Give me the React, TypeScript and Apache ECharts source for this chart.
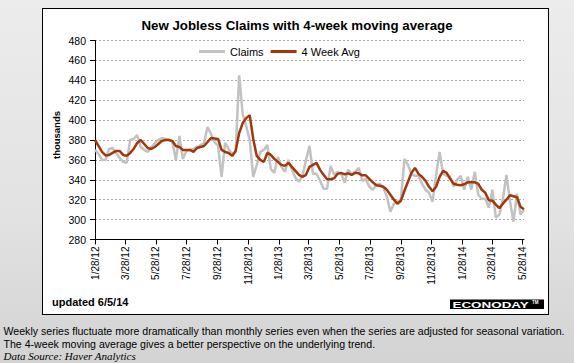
import React, { useEffect, useRef } from "react";
import * as echarts from "echarts";

// Weekly data, week ending Saturday, starting 1/28/12
const startDate = Date.UTC(2012, 0, 28);
const dayCount = 855; // 1/28/12 .. 5/31/14

const claims = [
  370, 366, 360, 360, 371, 372, 367, 362, 358, 357,
  380, 381, 385, 373, 370, 368, 373, 377, 380, 382,
  381, 380, 378, 360, 384, 361, 369, 370, 371, 373,
  375, 377, 393, 386, 378, 374, 343, 377, 371, 366,
  368, 445, 406, 394, 380, 343, 355, 368, 370, 375,
  351, 347, 363, 353, 348, 360, 350, 342, 338, 344,
  360, 374, 346, 346, 339, 331, 331, 354, 345, 348,
  346, 337, 350, 346, 348, 352, 339, 341, 333, 330,
  335, 336, 332, 323, 308, 316, 318, 320, 361, 355,
  346, 344, 344, 336, 330, 327, 318, 345, 368, 346,
  344, 343, 333, 340, 344, 330, 343, 330, 348, 325,
  321, 321, 312, 330, 302, 305, 321, 345, 319, 298,
  326, 305, 310,
];

const avg4 = [
  380, 374, 368, 364.5, 365, 367, 369, 369, 365, 364,
  367, 371, 377, 380, 376, 372, 371, 373, 376, 379,
  380, 380, 379, 374, 373, 370, 370, 370, 368, 372,
  373, 374, 378, 382, 381.5, 381, 370, 368, 367, 364,
  369, 387, 397, 402, 405, 381, 364, 360, 358, 367,
  365, 361, 358, 355, 354, 357, 353, 349, 345, 343,
  345, 353, 355, 357, 350, 345, 340.5, 340.5, 341.5, 346,
  347, 345.5, 346.5, 345, 347, 346.5, 344.5, 344.5, 341, 337.5,
  334.5, 334, 333, 330, 325, 320, 316, 319, 329, 338,
  347, 352, 346, 343, 339, 333, 328.5, 333, 343, 349,
  347, 341, 336, 335, 334.5, 335.5, 337.5, 337.5, 337.5, 336,
  330, 327, 319.5, 319, 315, 311.5, 316, 320, 324.5, 323.5,
  322.5, 313, 310.5,
];

const yMin = 280;
const yMax = 480;
const yStep = 20;

const titleText = "New Jobless Claims with 4-week moving average";
const yName = "thousands";
const updatedText = "updated 6/5/14";
const noteLines = [
  "Weekly series fluctuate more dramatically than monthly series even when the series are adjusted for seasonal variation.",
  "The 4-week moving average gives a better perspective on the underlying trend.",
];
const sourceText = "Data Source: Haver Analytics";

const FONT = "'Liberation Sans', Arial, sans-serif";

function dayDate(i: number) {
  return new Date(startDate + i * 86400000);
}
const dayLabels = Array.from({ length: dayCount }, (_, i) => {
  const d = dayDate(i);
  return `${d.getUTCMonth() + 1}/${d.getUTCDate()}/${String(d.getUTCFullYear()).slice(2)}`;
});
const isTickDay = (index: number) => {
  const d = dayDate(index);
  return d.getUTCDate() === 28 && d.getUTCMonth() % 2 === 0;
};

export default function App() {
  const ref = useRef<HTMLDivElement>(null);
  useEffect(() => {
    if (!ref.current) return;
    const chart = echarts.init(ref.current, null, { renderer: "svg" });
    chart.setOption({
      animation: false,
      backgroundColor: "transparent",
      textStyle: { fontFamily: FONT },
      grid: { left: 95, top: 40.5, width: 429, height: 199, containLabel: false },
      legend: {
        left: 194,
        top: 41,
        itemGap: 7,
        itemWidth: 26,
        itemHeight: 3,
        icon: "rect",
        textStyle: { fontSize: 11, color: "#000", fontFamily: FONT },
        data: ["Claims", "4 Week Avg"],
      },
      xAxis: {
        type: "category",
        data: dayLabels,
        boundaryGap: false,
        axisLine: { show: true, lineStyle: { color: "#000", width: 1 } },
        axisTick: { show: true, interval: (i: number) => isTickDay(i), length: 5, lineStyle: { color: "#000" } },
        axisLabel: {
          interval: (i: number) => isTickDay(i),
          rotate: 90,
          fontSize: 10,
          color: "#000",
          margin: 7,
          fontFamily: FONT,
        },
        splitLine: { show: false },
      },
      yAxis: {
        type: "value",
        min: yMin,
        max: yMax,
        interval: yStep,
        axisLine: { show: true, lineStyle: { color: "#000", width: 1 } },
        axisTick: { show: true, length: 5, lineStyle: { color: "#000" } },
        axisLabel: { fontSize: 10.5, color: "#000", margin: 9, fontFamily: FONT },
        splitLine: { show: true, lineStyle: { color: "#a8a8a8", type: [2, 2], width: 1 } },
      },
      series: [
        {
          name: "Claims",
          type: "line",
          data: claims.map((v, i) => [i * 7, v]),
          showSymbol: false,
          symbol: "none",
          lineStyle: { color: "#c2c2c2", width: 2.5 },
          itemStyle: { color: "#c2c2c2" },
          z: 2,
        },
        {
          name: "4 Week Avg",
          type: "line",
          data: avg4.map((v, i) => [i * 7, v]),
          showSymbol: false,
          symbol: "none",
          lineStyle: { color: "#a0380c", width: 2.5 },
          itemStyle: { color: "#a0380c" },
          z: 3,
        },
      ],
      graphic: [
        {
          type: "text",
          x: 297,
          y: 25,
          style: { text: titleText, font: `bold 13.3px ${FONT}`, fill: "#000", align: "center", verticalAlign: "middle" },
        },
        {
          type: "text",
          x: 56,
          y: 135,
          rotation: Math.PI / 2,
          style: { text: yName, font: `bold 9.5px ${FONT}`, fill: "#000", align: "center", verticalAlign: "middle" },
        },
        {
          type: "text",
          x: 52,
          y: 301.5,
          style: { text: updatedText, font: `bold 11px ${FONT}`, fill: "#000", align: "left", verticalAlign: "middle" },
        },
        { type: "rect", shape: { x: 450, y: 299.5, width: 94, height: 9.5 }, style: { fill: "#000" } },
        {
          type: "text",
          x: 452.5,
          y: 304.5,
          scaleX: 1.58,
          style: { text: "ECONODAY", font: `bold 8.5px ${FONT}`, fill: "#fff", align: "left", verticalAlign: "middle" },
        },
        {
          type: "text",
          x: 532,
          y: 302.5,
          style: { text: "TM", font: `bold 4.5px ${FONT}`, fill: "#fff", align: "left", verticalAlign: "middle" },
        },
        {
          type: "text",
          x: 3.5,
          y: 330.5,
          style: { text: noteLines[0], font: `10.6px ${FONT}`, fill: "#000", align: "left", verticalAlign: "middle" },
        },
        {
          type: "text",
          x: 3.5,
          y: 343.5,
          style: { text: noteLines[1], font: `10.6px ${FONT}`, fill: "#000", align: "left", verticalAlign: "middle" },
        },
        {
          type: "text",
          x: 3.5,
          y: 355.5,
          style: { text: sourceText, font: `italic 11px 'Liberation Serif', 'Times New Roman', serif`, fill: "#000", align: "left", verticalAlign: "middle" },
        },
      ],
    });
    return () => chart.dispose();
  }, []);

  return (
    <div
      style={{
        position: "fixed",
        left: 0,
        top: 0,
        width: 574,
        height: 363,
        background: "linear-gradient(to bottom, #ececec 0%, #e2e2e2 60%, #d3d3d3 100%)",
        overflow: "hidden",
      }}
    >
      <div
        style={{
          position: "absolute",
          left: 42,
          top: 8,
          width: 507,
          height: 307,
          boxSizing: "border-box",
          background: "#fff",
          border: "1px solid #000",
        }}
      />
      <div ref={ref} style={{ position: "absolute", left: 0, top: 0, width: 574, height: 363 }} />
    </div>
  );
}
